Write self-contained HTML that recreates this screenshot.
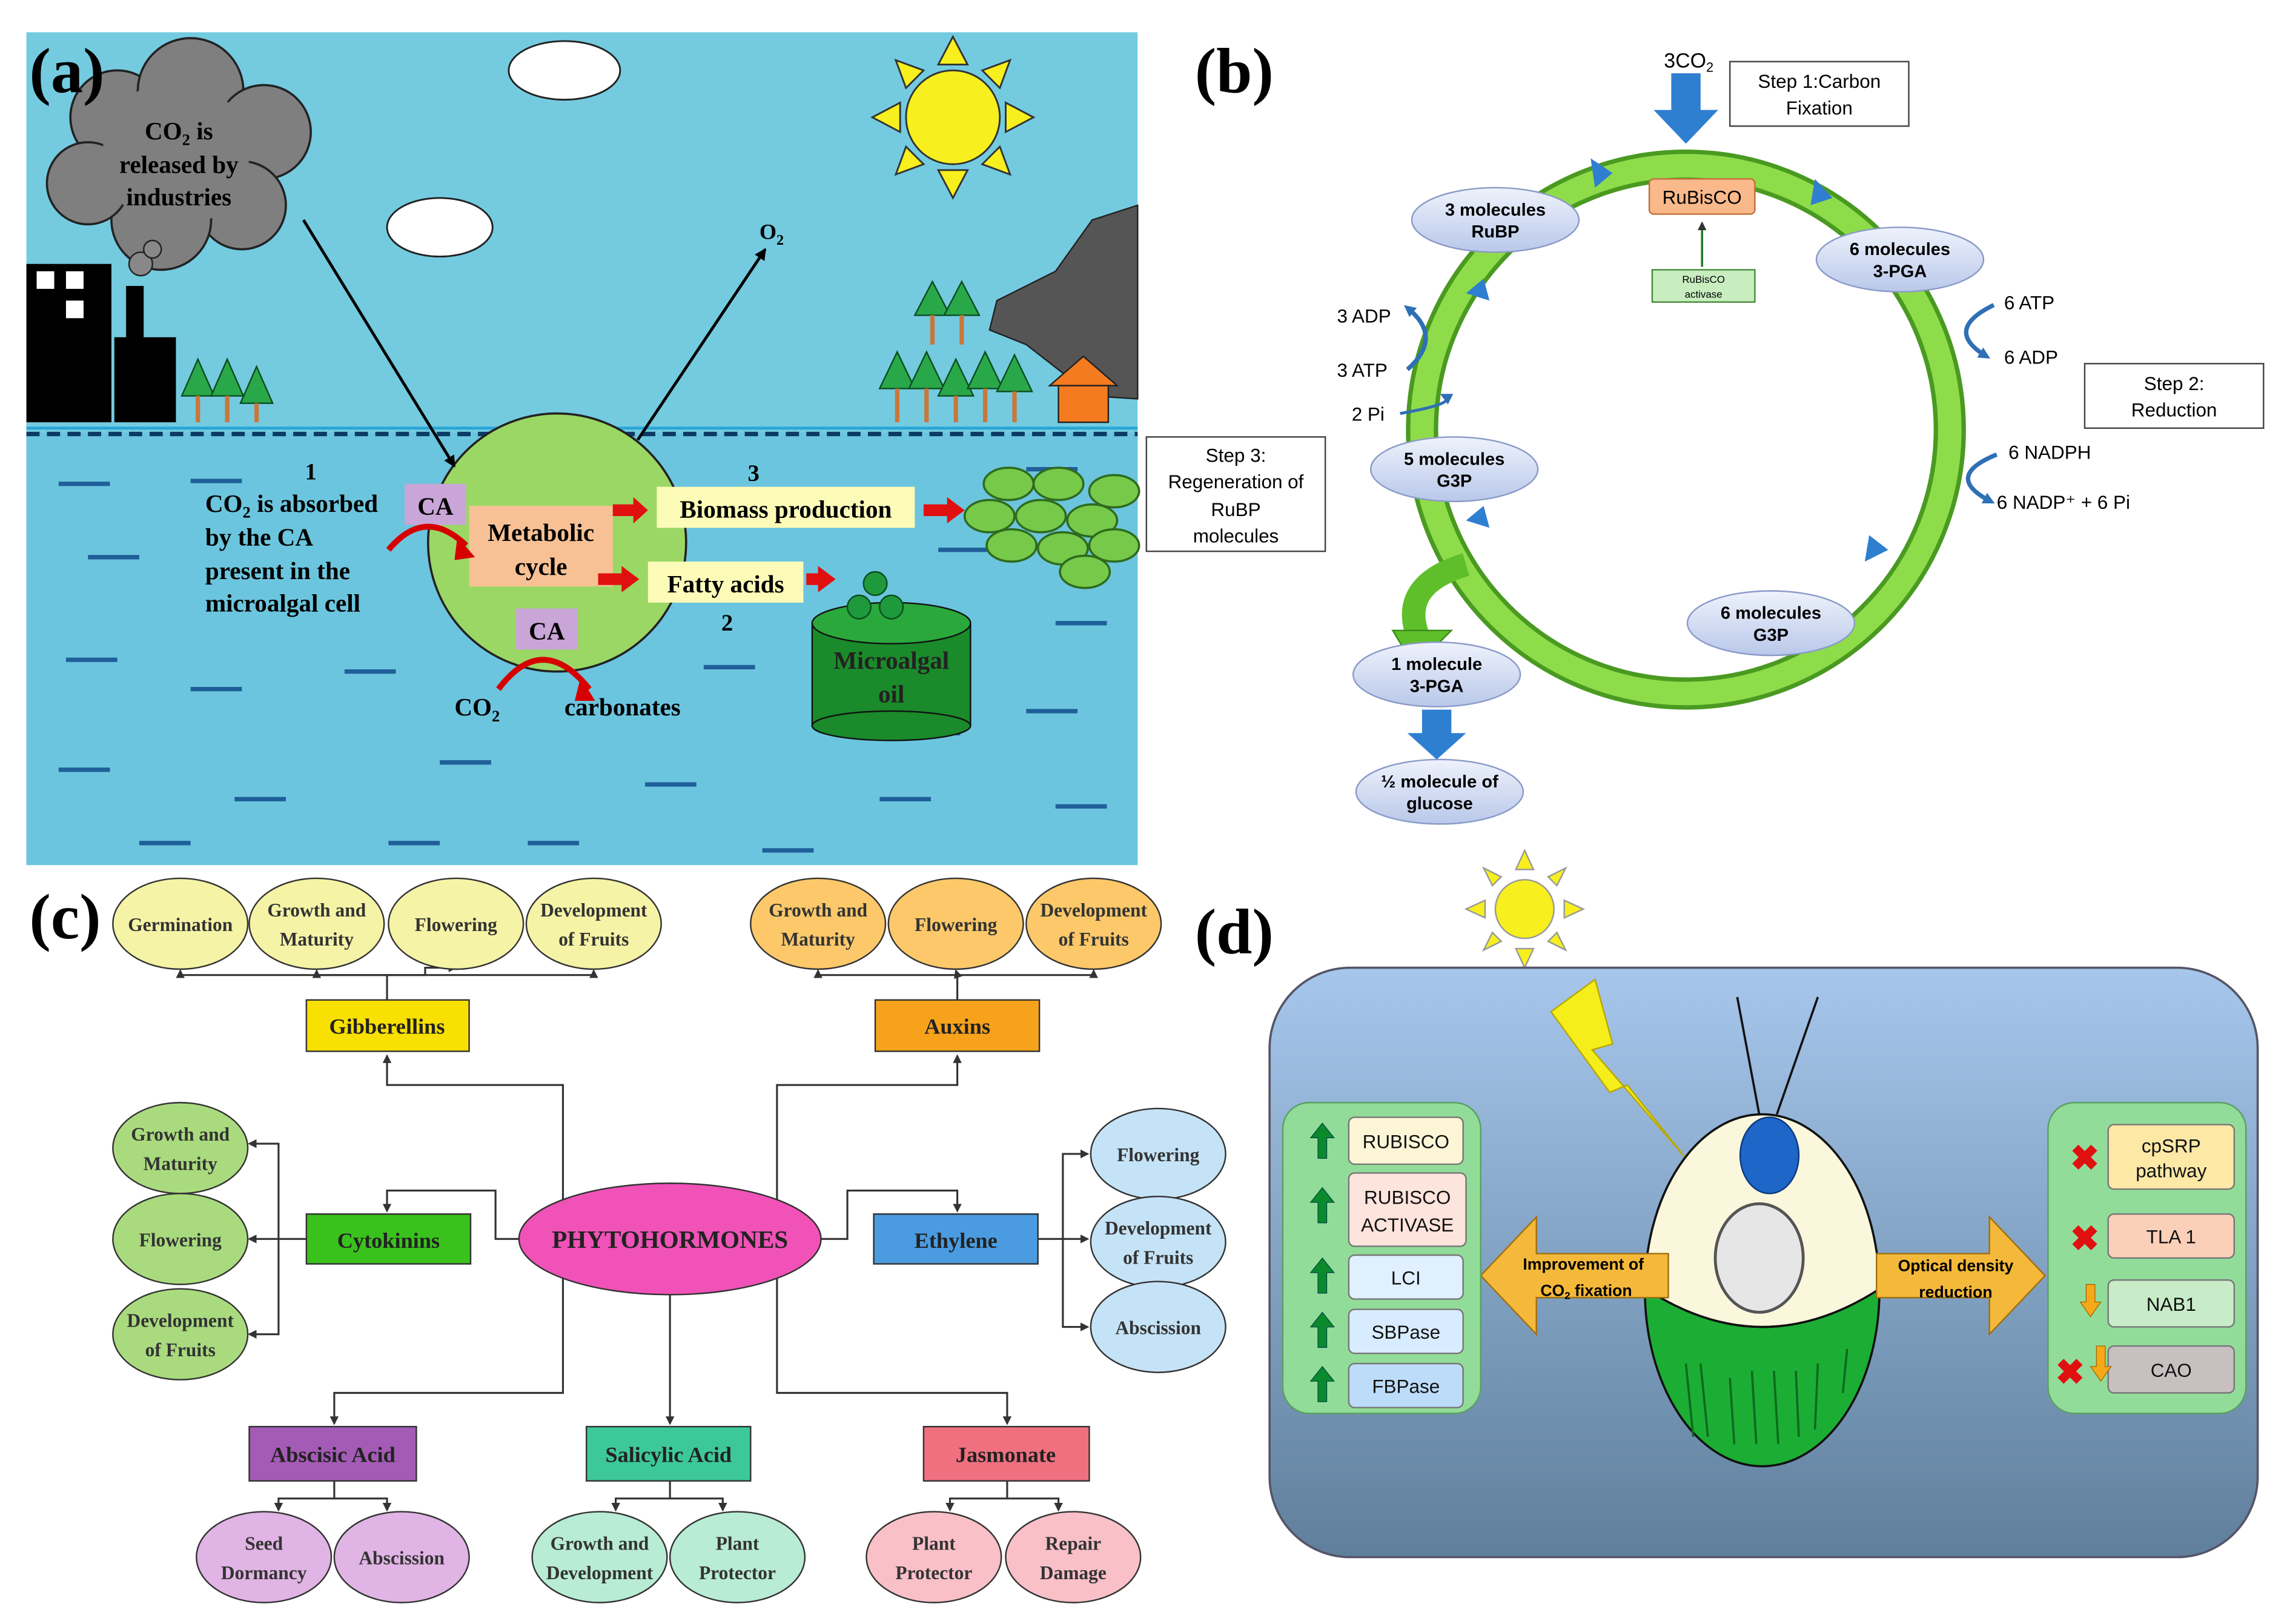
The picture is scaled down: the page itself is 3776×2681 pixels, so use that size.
<!DOCTYPE html>
<html><head><meta charset="utf-8"><style>html,body{margin:0;padding:0;background:#fff}svg{display:block}</style></head><body>
<svg width="3776" height="2681" viewBox="0 0 1560 1107.6" xmlns="http://www.w3.org/2000/svg" font-family="Liberation Serif, serif">
<defs>
<linearGradient id="dg" x1="0" y1="0" x2="0" y2="1"><stop offset="0" stop-color="#a6c6ec"/><stop offset="1" stop-color="#5f7f9c"/></linearGradient>
<linearGradient id="nb" x1="0" y1="0" x2="0" y2="1"><stop offset="0" stop-color="#eef2fb"/><stop offset="1" stop-color="#b9c8ea"/></linearGradient>
<clipPath id="cellc"><ellipse cx="1202" cy="880" rx="80" ry="120"/></clipPath>
<marker id="ah" markerWidth="8" markerHeight="8" refX="7" refY="4" orient="auto" markerUnits="userSpaceOnUse"><path d="M0,0 L8,4 L0,8 z" fill="#000"/></marker>
<marker id="ahs" markerWidth="6" markerHeight="6" refX="5" refY="3" orient="auto" markerUnits="userSpaceOnUse"><path d="M0,0 L6,3 L0,6 z" fill="#333"/></marker>
<marker id="ahb" markerWidth="8" markerHeight="8" refX="5" refY="4" orient="auto" markerUnits="userSpaceOnUse"><path d="M0,0 L8,4 L0,8 z" fill="#2f6fb5"/></marker>
</defs>
<!-- Panel a -->
<rect x="18" y="22" width="758" height="568" fill="#74cbe0"/>
<rect x="18" y="295" width="758" height="295" fill="#6cc5de"/>
<line x1="18" y1="296" x2="776" y2="296" stroke="#0a3a66" stroke-width="3" stroke-dasharray="9,5"/>
<line x1="18" y1="292" x2="776" y2="292" stroke="#2aa6d6" stroke-width="2"/>
<g stroke="#1f5f9a" stroke-width="3">
<line x1="40" y1="330" x2="75" y2="330"/><line x1="130" y1="328" x2="165" y2="328"/><line x1="700" y1="320" x2="735" y2="320"/>
<line x1="60" y1="380" x2="95" y2="380"/><line x1="640" y1="375" x2="675" y2="375"/><line x1="720" y1="425" x2="755" y2="425"/>
<line x1="45" y1="450" x2="80" y2="450"/><line x1="130" y1="470" x2="165" y2="470"/><line x1="235" y1="458" x2="270" y2="458"/>
<line x1="480" y1="455" x2="515" y2="455"/><line x1="700" y1="485" x2="735" y2="485"/><line x1="40" y1="525" x2="75" y2="525"/>
<line x1="160" y1="545" x2="195" y2="545"/><line x1="300" y1="520" x2="335" y2="520"/><line x1="440" y1="535" x2="475" y2="535"/>
<line x1="600" y1="545" x2="635" y2="545"/><line x1="720" y1="550" x2="755" y2="550"/><line x1="265" y1="575" x2="300" y2="575"/><line x1="95" y1="575" x2="130" y2="575"/>
<line x1="360" y1="575" x2="395" y2="575"/><line x1="520" y1="580" x2="555" y2="580"/><line x1="620" y1="500" x2="655" y2="500"/>
</g>
<g fill="#f7ef1e" stroke="#333" stroke-width="1.2">
<polygon points="650,25 660,44 640,44"/><polygon points="650,135 660,116 640,116"/><polygon points="595,80 614,70 614,90"/><polygon points="705,80 686,70 686,90"/>
<polygon points="611,41 630,48 618,60"/><polygon points="689,41 670,48 682,60"/><polygon points="611,119 630,112 618,100"/><polygon points="689,119 670,112 682,100"/>
<circle cx="650" cy="80" r="32"/></g>
<g fill="#fff" stroke="#222" stroke-width="1.2">
<ellipse cx="385" cy="48" rx="38" ry="20"/><ellipse cx="300" cy="155" rx="36" ry="20"/></g>
<g fill="#7f7f7f" stroke="#222" stroke-width="1.5">
<circle cx="80" cy="80" r="32"/><circle cx="130" cy="62" r="36"/><circle cx="180" cy="90" r="32"/><circle cx="165" cy="140" r="30"/><circle cx="110" cy="150" r="34"/><circle cx="60" cy="125" r="28"/><circle cx="120" cy="105" r="50" stroke="none"/></g>
<text x="122" y="95" font-size="17" font-weight="bold" text-anchor="middle">CO<tspan font-size="11" dy="4">2</tspan><tspan dy="-4"> is</tspan></text>
<text x="122" y="118" font-size="17" font-weight="bold" text-anchor="middle">released by</text>
<text x="122" y="140" font-size="17" font-weight="bold" text-anchor="middle">industries</text>
<rect x="18" y="180" width="58" height="108" fill="#000"/><rect x="78" y="230" width="42" height="58" fill="#000"/><rect x="86" y="195" width="12" height="40" fill="#000"/>
<circle cx="96" cy="180" r="8" fill="#888" stroke="#222"/><circle cx="104" cy="170" r="6" fill="#888" stroke="#222"/>
<rect x="25" y="185" width="12" height="12" fill="#fff"/><rect x="45" y="185" width="12" height="12" fill="#fff"/><rect x="45" y="205" width="12" height="12" fill="#fff"/>
<g fill="#29a84a" stroke="#0b4d1f" stroke-width="1">
<polygon points="135,245 124,270 146,270"/><polygon points="155,245 144,270 166,270"/><polygon points="175,250 164,275 186,275"/>
<polygon points="612,240 600,265 624,265"/><polygon points="632,240 620,265 644,265"/><polygon points="652,245 640,270 664,270"/><polygon points="672,240 660,265 684,265"/><polygon points="692,242 680,267 704,267"/>
<polygon points="636,192 624,215 648,215"/><polygon points="656,192 644,215 668,215"/></g>
<g stroke="#c9773a" stroke-width="3"><line x1="135" y1="270" x2="135" y2="288"/><line x1="155" y1="270" x2="155" y2="288"/><line x1="175" y1="275" x2="175" y2="288"/>
<line x1="612" y1="265" x2="612" y2="288"/><line x1="632" y1="265" x2="632" y2="288"/><line x1="652" y1="270" x2="652" y2="288"/><line x1="672" y1="265" x2="672" y2="288"/><line x1="692" y1="267" x2="692" y2="288"/><line x1="636" y1="215" x2="636" y2="235"/><line x1="656" y1="215" x2="656" y2="235"/></g>
<path d="M680,205 L720,185 L745,150 L776,140 L776,272 L745,270 L700,235 L675,225 Z" fill="#555" stroke="#222"/>
<rect x="722" y="262" width="34" height="26" fill="#f47b20" stroke="#222"/><polygon points="716,263 739,243 762,263" fill="#f47b20" stroke="#222"/>
<g fill="#77c94a" stroke="#2e6b1d" stroke-width="1.5">
<ellipse cx="688" cy="330" rx="17" ry="11"/><ellipse cx="722" cy="330" rx="17" ry="11"/><ellipse cx="760" cy="335" rx="17" ry="11"/>
<ellipse cx="675" cy="352" rx="17" ry="11"/><ellipse cx="710" cy="352" rx="17" ry="11"/><ellipse cx="745" cy="355" rx="17" ry="11"/>
<ellipse cx="690" cy="372" rx="17" ry="11"/><ellipse cx="725" cy="374" rx="17" ry="11"/><ellipse cx="760" cy="372" rx="17" ry="11"/><ellipse cx="740" cy="390" rx="17" ry="11"/></g>
<circle cx="380" cy="370" r="88" fill="#9bd765" stroke="#222" stroke-width="1.5"/>
<line x1="207" y1="150" x2="310" y2="318" stroke="#000" stroke-width="2" marker-end="url(#ah)"/>
<line x1="435" y1="300" x2="522" y2="170" stroke="#000" stroke-width="2" marker-end="url(#ah)"/>
<text x="518" y="163" font-size="15" font-weight="bold">O<tspan font-size="10" dy="4">2</tspan></text>
<rect x="276" y="330" width="42" height="28" fill="#c9a5d8"/><text x="297" y="351" font-size="17" font-weight="bold" text-anchor="middle">CA</text>
<rect x="320" y="345" width="98" height="55" fill="#f7c195"/><text x="369" y="369" font-size="17" font-weight="bold" text-anchor="middle">Metabolic</text><text x="369" y="392" font-size="17" font-weight="bold" text-anchor="middle">cycle</text>
<rect x="352" y="415" width="42" height="28" fill="#c9a5d8"/><text x="373" y="436" font-size="17" font-weight="bold" text-anchor="middle">CA</text>
<path d="M265,375 Q290,345 318,372" fill="none" stroke="#d60000" stroke-width="4"/><polygon points="312,366 324,380 310,382" fill="#d60000"/>
<path d="M340,470 Q370,430 402,470" fill="none" stroke="#d60000" stroke-width="4"/><polygon points="396,462 406,478 392,478" fill="#d60000"/>
<text x="212" y="327" font-size="16" font-weight="bold" text-anchor="middle">1</text>
<text x="140" y="349" font-size="17" font-weight="bold">CO<tspan font-size="11" dy="4">2</tspan><tspan dy="-4"> is absorbed</tspan></text>
<text x="140" y="372" font-size="17" font-weight="bold">by the CA</text><text x="140" y="395" font-size="17" font-weight="bold">present in the</text><text x="140" y="417" font-size="17" font-weight="bold">microalgal cell</text>
<text x="310" y="488" font-size="17" font-weight="bold">CO<tspan font-size="11" dy="4">2</tspan></text><text x="385" y="488" font-size="17" font-weight="bold">carbonates</text>
<rect x="448" y="332" width="176" height="28" fill="#fdfbb8"/><text x="536" y="353" font-size="17" font-weight="bold" text-anchor="middle">Biomass production</text>
<rect x="442" y="383" width="106" height="28" fill="#fdfbb8"/><text x="495" y="404" font-size="17" font-weight="bold" text-anchor="middle">Fatty acids</text>
<text x="510" y="328" font-size="16" font-weight="bold">3</text><text x="492" y="430" font-size="16" font-weight="bold">2</text>
<g fill="#e01010"><polygon points="418,344 432,344 432,339 442,348 432,357 432,352 418,352"/><polygon points="408,391 424,391 424,386 436,395 424,404 424,399 408,399"/>
<polygon points="550,391 558,391 558,386 570,395 558,404 558,399 550,399"/><polygon points="630,344 646,344 646,339 658,348 646,357 646,352 630,352"/></g>
<rect x="554" y="425" width="108" height="70" fill="#1a8a2a" stroke="#111"/><ellipse cx="608" cy="425" rx="54" ry="14" fill="#2aa83c" stroke="#111"/><ellipse cx="608" cy="495" rx="54" ry="10" fill="#1a8a2a" stroke="#111"/>
<text x="608" y="456" font-size="17" font-weight="bold" text-anchor="middle" fill="#222">Microalgal</text><text x="608" y="479" font-size="17" font-weight="bold" text-anchor="middle" fill="#222">oil</text>
<g fill="#1e9a3c" stroke="#0b4d1f"><circle cx="597" cy="398" r="8"/><circle cx="586" cy="414" r="8"/><circle cx="608" cy="414" r="8"/></g>
<text x="20" y="63" font-size="44" font-weight="bold">(a)</text>
<!-- Panel b -->
<text x="815" y="63" font-size="44" font-weight="bold">(b)</text>
<circle cx="1150" cy="293" r="180" fill="none" stroke="#4a9a22" stroke-width="22"/>
<circle cx="1150" cy="293" r="180" fill="none" stroke="#8fdc4a" stroke-width="16"/>
<path d="M1000,385 Q950,400 970,440" fill="none" stroke="#5fbf2a" stroke-width="16"/>
<polygon points="950,430 990,430 965,455" fill="#5fbf2a" stroke="#3a8a18"/>
<g fill="#2f7fd0"><polygon points="1085,108 1100,118 1088,128"/><polygon points="1238,122 1250,135 1235,140"/><polygon points="1275,365 1288,375 1272,383"/><polygon points="1000,200 1012,190 1016,205"/><polygon points="1000,355 1012,345 1016,360"/></g>
<polygon points="1140,50 1160,50 1160,75 1172,75 1150,98 1128,75 1140,75" fill="#2f7fd0"/>
<text x="1135" y="46" font-size="14" font-family="Liberation Sans, sans-serif">3CO<tspan font-size="9" dy="3">2</tspan></text>
<rect x="1180" y="42" width="122" height="44" fill="#fff" stroke="#444"/><text x="1241" y="60" font-size="13" text-anchor="middle" font-family="Liberation Sans, sans-serif">Step 1:Carbon</text><text x="1241" y="78" font-size="13" text-anchor="middle" font-family="Liberation Sans, sans-serif">Fixation</text>
<rect x="1125" y="122" width="72" height="24" rx="3" fill="#f9b98a" stroke="#c0703a"/><text x="1161" y="139" font-size="13" text-anchor="middle" font-family="Liberation Sans, sans-serif">RuBisCO</text>
<line x1="1161" y1="182" x2="1161" y2="152" stroke="#2a7a2a" stroke-width="1.5" marker-end="url(#ahs)"/>
<rect x="1127" y="184" width="70" height="22" fill="#c8eec0" stroke="#4a8a3a"/><text x="1162" y="193" font-size="7" text-anchor="middle" font-family="Liberation Sans, sans-serif">RuBisCO</text><text x="1162" y="203" font-size="7" text-anchor="middle" font-family="Liberation Sans, sans-serif">activase</text>
<g font-family="Liberation Sans, sans-serif" font-size="12" font-weight="bold" text-anchor="middle">
<ellipse cx="1020" cy="150" rx="57" ry="22" fill="url(#nb)" stroke="#8a9ac8"/><text x="1020" y="147">3 molecules</text><text x="1020" y="162">RuBP</text>
<ellipse cx="1296" cy="177" rx="57" ry="22" fill="url(#nb)" stroke="#8a9ac8"/><text x="1296" y="174">6 molecules</text><text x="1296" y="189">3-PGA</text>
<ellipse cx="992" cy="320" rx="57" ry="22" fill="url(#nb)" stroke="#8a9ac8"/><text x="992" y="317">5 molecules</text><text x="992" y="332">G3P</text>
<ellipse cx="1208" cy="425" rx="57" ry="22" fill="url(#nb)" stroke="#8a9ac8"/><text x="1208" y="422">6 molecules</text><text x="1208" y="437">G3P</text>
<ellipse cx="980" cy="460" rx="57" ry="22" fill="url(#nb)" stroke="#8a9ac8"/><text x="980" y="457">1 molecule</text><text x="980" y="472">3-PGA</text>
<ellipse cx="982" cy="540" rx="57" ry="22" fill="url(#nb)" stroke="#8a9ac8"/><text x="982" y="537">½ molecule of</text><text x="982" y="552">glucose</text></g>
<polygon points="970,484 990,484 990,500 1000,500 980,518 960,500 970,500" fill="#2f7fd0"/>
<g font-family="Liberation Sans, sans-serif" font-size="13">
<text x="912" y="220">3 ADP</text><text x="912" y="257">3 ATP</text><text x="922" y="287">2 Pi</text>
<text x="1367" y="211">6 ATP</text><text x="1367" y="248">6 ADP</text><text x="1370" y="313">6 NADPH</text><text x="1362" y="347">6 NADP⁺ + 6 Pi</text></g>
<path d="M960,252 Q985,230 960,210" fill="none" stroke="#2f6fb5" stroke-width="3" marker-end="url(#ahb)"/>
<path d="M955,282 Q995,275 985,270" fill="none" stroke="#2f6fb5" stroke-width="2" marker-end="url(#ahb)"/>
<path d="M1360,208 Q1325,225 1355,243" fill="none" stroke="#2f6fb5" stroke-width="3" marker-end="url(#ahb)"/>
<path d="M1362,310 Q1325,325 1358,342" fill="none" stroke="#2f6fb5" stroke-width="3" marker-end="url(#ahb)"/>
<rect x="1422" y="248" width="122" height="44" fill="#fff" stroke="#444"/><text x="1483" y="266" font-size="13" text-anchor="middle" font-family="Liberation Sans, sans-serif">Step 2:</text><text x="1483" y="284" font-size="13" text-anchor="middle" font-family="Liberation Sans, sans-serif">Reduction</text>
<rect x="782" y="298" width="122" height="78" fill="#fff" stroke="#444"/><g font-size="13" text-anchor="middle" font-family="Liberation Sans, sans-serif"><text x="843" y="315">Step 3:</text><text x="843" y="333">Regeneration of</text><text x="843" y="352">RuBP</text><text x="843" y="370">molecules</text></g>
<!-- Panel c -->
<text x="20" y="640" font-size="44" font-weight="bold">(c)</text>
<g stroke="#333" stroke-width="1.3" fill="none" marker-end="url(#ahs)">
<path d="M384,845 L384,740 L264,740 L264,720"/><path d="M384,845 L384,950 L228,950 L228,971"/>
<path d="M530,845 L530,740 L653,740 L653,720"/><path d="M530,845 L530,950 L687,950 L687,971"/>
<path d="M457,883 L457,971"/><path d="M355,845 L338,845 L338,812 L264,812 L264,826"/><path d="M560,845 L578,845 L578,812 L653,812 L653,826"/>
<path d="M264,682 L264,665 L123,665 L123,662"/><path d="M264,665 L216,665 L216,662"/><path d="M264,665 L290,665 L290,660 L311,660"/><path d="M264,665 L405,665 L405,662"/>
<path d="M653,682 L653,665 L558,665 L558,662"/><path d="M653,665 L652,662"/><path d="M653,665 L746,665 L746,662"/>
<path d="M209,845 L190,845 L190,780 L170,780"/><path d="M190,845 L170,845"/><path d="M190,845 L190,910 L170,910"/>
<path d="M708,845 L725,845 L725,787 L742,787"/><path d="M725,845 L742,845"/><path d="M725,845 L725,905 L742,905"/>
<path d="M228,1010 L228,1022 L190,1022 L190,1030"/><path d="M228,1022 L264,1022 L264,1030"/>
<path d="M457,1010 L457,1022 L420,1022 L420,1030"/><path d="M457,1022 L493,1022 L493,1030"/>
<path d="M687,1010 L687,1022 L648,1022 L648,1030"/><path d="M687,1022 L722,1022 L722,1030"/>
</g>
<g font-size="13" font-weight="bold" text-anchor="middle" stroke="#333" stroke-width="1">
<ellipse cx="123" cy="630" rx="46" ry="31" fill="#f5f3a6"/><ellipse cx="216" cy="630" rx="46" ry="31" fill="#f5f3a6"/><ellipse cx="311" cy="630" rx="46" ry="31" fill="#f5f3a6"/><ellipse cx="405" cy="630" rx="46" ry="31" fill="#f5f3a6"/>
<ellipse cx="558" cy="630" rx="46" ry="31" fill="#fcc86a"/><ellipse cx="652" cy="630" rx="46" ry="31" fill="#fcc86a"/><ellipse cx="746" cy="630" rx="46" ry="31" fill="#fcc86a"/>
<ellipse cx="123" cy="783" rx="46" ry="31" fill="#a9db7e"/><ellipse cx="123" cy="845" rx="46" ry="31" fill="#a9db7e"/><ellipse cx="123" cy="910" rx="46" ry="31" fill="#a9db7e"/>
<ellipse cx="790" cy="787" rx="46" ry="31" fill="#c5e3f7"/><ellipse cx="790" cy="847" rx="46" ry="31" fill="#c5e3f7"/><ellipse cx="790" cy="905" rx="46" ry="31" fill="#c5e3f7"/>
<ellipse cx="180" cy="1062" rx="46" ry="31" fill="#e0b4e4"/><ellipse cx="274" cy="1062" rx="46" ry="31" fill="#e0b4e4"/>
<ellipse cx="409" cy="1062" rx="46" ry="31" fill="#b8ecd4"/><ellipse cx="503" cy="1062" rx="46" ry="31" fill="#b8ecd4"/>
<ellipse cx="637" cy="1062" rx="46" ry="31" fill="#f9c0c8"/><ellipse cx="732" cy="1062" rx="46" ry="31" fill="#f9c0c8"/>
<ellipse cx="457" cy="845" rx="103" ry="38" fill="#f052b8"/>
<rect x="209" y="682" width="111" height="35" fill="#f8e000"/><rect x="597" y="682" width="112" height="35" fill="#f7a21b"/>
<rect x="209" y="828" width="112" height="34" fill="#39c21c"/><rect x="596" y="828" width="112" height="34" fill="#4b9be0"/>
<rect x="170" y="973" width="114" height="37" fill="#a45bb5"/><rect x="400" y="973" width="112" height="37" fill="#3dc89a"/><rect x="630" y="973" width="113" height="37" fill="#f07080"/>
</g>
<g font-size="13" font-weight="bold" text-anchor="middle" fill="#333">
<text x="123" y="635">Germination</text><text x="216" y="625">Growth and</text><text x="216" y="645">Maturity</text><text x="311" y="635">Flowering</text><text x="405" y="625">Development</text><text x="405" y="645">of Fruits</text>
<text x="558" y="625">Growth and</text><text x="558" y="645">Maturity</text><text x="652" y="635">Flowering</text><text x="746" y="625">Development</text><text x="746" y="645">of Fruits</text>
<text x="123" y="778">Growth and</text><text x="123" y="798">Maturity</text><text x="123" y="850">Flowering</text><text x="123" y="905">Development</text><text x="123" y="925">of Fruits</text>
<text x="790" y="792">Flowering</text><text x="790" y="842">Development</text><text x="790" y="862">of Fruits</text><text x="790" y="910">Abscission</text>
<text x="180" y="1057">Seed</text><text x="180" y="1077">Dormancy</text><text x="274" y="1067">Abscission</text>
<text x="409" y="1057">Growth and</text><text x="409" y="1077">Development</text><text x="503" y="1057">Plant</text><text x="503" y="1077">Protector</text>
<text x="637" y="1057">Plant</text><text x="637" y="1077">Protector</text><text x="732" y="1057">Repair</text><text x="732" y="1077">Damage</text>
</g>
<g font-size="15" font-weight="bold" text-anchor="middle" fill="#222">
<text x="264" y="705">Gibberellins</text><text x="653" y="705">Auxins</text><text x="265" y="851">Cytokinins</text><text x="652" y="851">Ethylene</text>
<text x="227" y="997">Abscisic Acid</text><text x="456" y="997">Salicylic Acid</text><text x="686" y="997">Jasmonate</text>
<text x="457" y="851" font-size="17">PHYTOHORMONES</text></g>
<!-- Panel d -->
<text x="815" y="650" font-size="44" font-weight="bold">(d)</text>
<g fill="#f7ef1e" stroke="#999" stroke-width="1"><polygon points="1040,580 1046,593 1034,593"/><polygon points="1040,660 1046,647 1034,647"/><polygon points="1000,620 1013,614 1013,626"/><polygon points="1080,620 1067,614 1067,626"/>
<polygon points="1012,592 1024,598 1018,604"/><polygon points="1068,592 1056,598 1062,604"/><polygon points="1012,648 1024,642 1018,636"/><polygon points="1068,648 1056,642 1062,636"/><circle cx="1040" cy="620" r="20"/></g>
<rect x="866" y="660" width="674" height="402" rx="55" fill="url(#dg)" stroke="#556" stroke-width="1.5"/>
<polygon points="1058,690 1088,668 1100,712 1086,716 1150,790 1110,740 1098,745" fill="#f5ee1a" stroke="#b8a800"/>
<line x1="1200" y1="760" x2="1185" y2="680" stroke="#111" stroke-width="1.5"/><line x1="1212" y1="760" x2="1240" y2="680" stroke="#111" stroke-width="1.5"/>
<ellipse cx="1202" cy="880" rx="80" ry="120" fill="#fbf7dc"/>
<path clip-path="url(#cellc)" d="M1110,870 Q1202,940 1295,870 L1295,1010 L1110,1010 Z" fill="#1cae34" stroke="#111" stroke-width="1.5"/>
<ellipse cx="1202" cy="880" rx="80" ry="120" fill="none" stroke="#111" stroke-width="1.5"/>
<ellipse cx="1207" cy="788" rx="20" ry="26" fill="#1e66c8" stroke="#0b3a80"/>
<ellipse cx="1200" cy="858" rx="30" ry="37" fill="#e6e6e6" stroke="#555" stroke-width="2"/>
<g stroke="#0d6a1e" stroke-width="1.5" fill="none"><path d="M1150,930 l5,50 M1160,930 l5,50 M1180,940 l3,45 M1195,935 l3,50 M1210,935 l3,50 M1225,935 l2,45 M1240,930 l-2,45 M1260,920 l-3,30"/></g>
<polygon points="1010,870 1048,830 1048,855 1138,855 1138,885 1048,885 1048,910" fill="#f4b93a" stroke="#a07010"/>
<polygon points="1395,870 1357,830 1357,855 1280,855 1280,885 1357,885 1357,910" fill="#f4b93a" stroke="#a07010"/>
<g font-family="Liberation Sans, sans-serif" font-size="11" font-weight="bold" text-anchor="middle"><text x="1080" y="866">Improvement of</text><text x="1082" y="884">CO<tspan font-size="7" dy="2">2</tspan><tspan dy="-2"> fixation</tspan></text>
<text x="1334" y="867">Optical density</text><text x="1334" y="885">reduction</text></g>
<rect x="875" y="752" width="135" height="212" rx="18" fill="#92dc9a" stroke="#5aa060"/>
<rect x="1397" y="752" width="135" height="212" rx="18" fill="#92dc9a" stroke="#5aa060"/>
<g font-family="Liberation Sans, sans-serif" font-size="13" text-anchor="middle" stroke="#777" stroke-width="1">
<rect x="920" y="762" width="78" height="32" rx="4" fill="#fdf6d6"/><rect x="920" y="800" width="80" height="50" rx="4" fill="#fde4dc"/><rect x="920" y="856" width="78" height="30" rx="4" fill="#e0f0ff"/><rect x="920" y="893" width="78" height="30" rx="4" fill="#d8ecff"/><rect x="920" y="930" width="78" height="30" rx="4" fill="#bcdcfa"/>
<rect x="1438" y="767" width="86" height="44" rx="4" fill="#fde8a6"/><rect x="1438" y="828" width="86" height="30" rx="4" fill="#fbd0b8"/><rect x="1438" y="873" width="86" height="32" rx="4" fill="#c8ecc8"/><rect x="1438" y="918" width="86" height="32" rx="4" fill="#c8c0c0"/>
</g>
<g font-family="Liberation Sans, sans-serif" font-size="13" text-anchor="middle" fill="#111">
<text x="959" y="783">RUBISCO</text><text x="960" y="821">RUBISCO</text><text x="960" y="840">ACTIVASE</text><text x="959" y="876">LCI</text><text x="959" y="913">SBPase</text><text x="959" y="950">FBPase</text>
<text x="1481" y="786">cpSRP</text><text x="1481" y="803">pathway</text><text x="1481" y="848">TLA 1</text><text x="1481" y="894">NAB1</text><text x="1481" y="939">CAO</text></g>
<g fill="#0a8a2a" stroke="#044" stroke-width="0.5">
<polygon points="902,766 910,776 905,776 905,790 899,790 899,776 894,776"/><polygon points="902,810 910,820 905,820 905,834 899,834 899,820 894,820"/>
<polygon points="902,858 910,868 905,868 905,882 899,882 899,868 894,868"/><polygon points="902,895 910,905 905,905 905,919 899,919 899,905 894,905"/><polygon points="902,932 910,942 905,942 905,956 899,956 899,942 894,942"/></g>
<g font-family="Liberation Sans, sans-serif" font-size="24" font-weight="bold" fill="#e01010"><text x="1412" y="798">✖</text><text x="1412" y="853">✖</text><text x="1402" y="944">✖</text></g>
<g fill="#f5a818" stroke="#a06000" stroke-width="0.5"><polygon points="1423,876 1429,876 1429,888 1433,888 1426,898 1419,888 1423,888"/><polygon points="1430,918 1436,918 1436,932 1440,932 1433,942 1426,932 1430,932"/></g>
</svg>
</body></html>
